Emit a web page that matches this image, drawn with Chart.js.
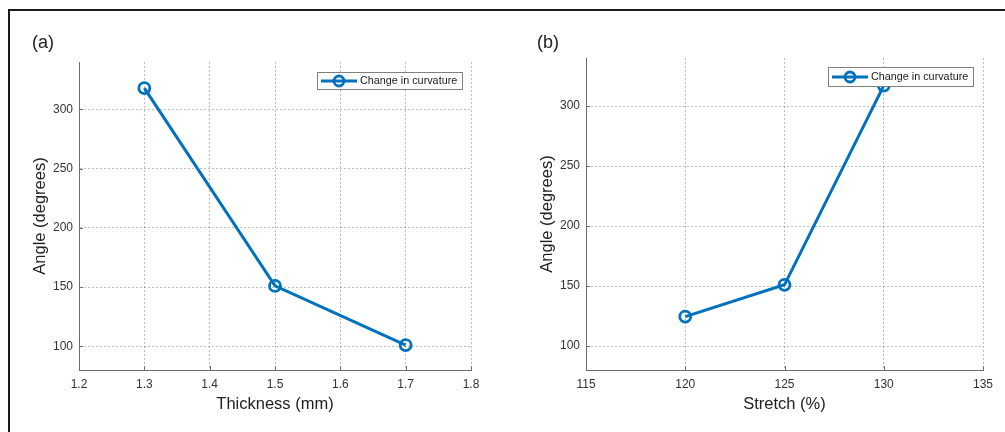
<!DOCTYPE html>
<html>
<head>
<meta charset="utf-8">
<script src="https://cdn.jsdelivr.net/npm/chart.js@4.4.1/dist/chart.umd.min.js"></script>
<style>
  html, body { margin: 0; padding: 0; background: #fff; }
  body { width: 1005px; height: 432px; position: relative; overflow: hidden; font-family: "Liberation Sans", Arial, sans-serif; }
  #frame { position: absolute; left: 8px; top: 9px; right: -5px; bottom: -5px; border-top: 2px solid #1a1a1a; border-left: 2px solid #1a1a1a; }
  canvas { position: absolute; }
  .panel { position: absolute; font-size: 18px; line-height: 1; color: #222; }
</style>
</head>
<body>
<div id="frame"></div>
<canvas id="chartA" width="488" height="420" style="left:12px;top:12px"></canvas>
<canvas id="chartB" width="505" height="420" style="left:500px;top:12px"></canvas>
<div class="panel" style="left:32px;top:33px">(a)</div>
<div class="panel" style="left:537px;top:33px">(b)</div>
<script>
const thickness = [1.3, 1.5, 1.7];
const angleByThickness = [318, 151, 101];
const stretch = [120, 125, 130];
const angleByStretch = [124.5, 151, 317];
const thicknessTicks = [1.2, 1.3, 1.4, 1.5, 1.6, 1.7, 1.8];
const stretchTicks = [115, 120, 125, 130, 135];
const angleTicks = [100, 150, 200, 250, 300];
const seriesLabel = 'Change in curvature';

Chart.defaults.font.family = '"Liberation Sans", Arial, sans-serif';

const axisColor = '#6e6e6e';
const textColor = '#333';
const gridColor = 'rgba(0, 0, 0, 0.26)';
const lineColor = '#0072BD';

// small inward tick marks, MATLAB style
const innerTicks = {
  id: 'innerTicks',
  afterDraw(chart) {
    const { ctx, chartArea, scales } = chart;
    ctx.save();
    ctx.strokeStyle = axisColor;
    ctx.lineWidth = 1;
    ctx.beginPath();
    scales.x.ticks.forEach(t => {
      const px = Math.round(scales.x.getPixelForValue(t.value)) + 0.5;
      ctx.moveTo(px, chartArea.bottom);
      ctx.lineTo(px, chartArea.bottom - 4);
    });
    scales.y.ticks.forEach(t => {
      const py = Math.round(scales.y.getPixelForValue(t.value)) + 0.5;
      ctx.moveTo(chartArea.left, py);
      ctx.lineTo(chartArea.left + 4, py);
    });
    ctx.stroke();
    ctx.restore();
  }
};

// boxed legend inside the axes, drawn over the data
const legendBox = {
  id: 'legendBox',
  afterDatasetsDraw(chart, args, opts) {
    const { ctx, chartArea } = chart;
    const ds = chart.data.datasets[0];
    ctx.save();
    ctx.font = '10.8px "Liberation Sans", Arial, sans-serif';
    const tw = ctx.measureText(ds.label).width;
    const w = Math.round(tw + 48);
    const h = opts.height;
    const x = Math.round(chartArea.right - opts.right - w);
    const y = Math.round(chartArea.top + opts.top);
    ctx.fillStyle = '#fff';
    ctx.fillRect(x, y, w, h);
    ctx.strokeStyle = '#808080';
    ctx.lineWidth = 1;
    ctx.strokeRect(x + 0.5, y + 0.5, w, h);
    const cy = y + h / 2 + 0.5;
    ctx.strokeStyle = ds.borderColor;
    ctx.lineWidth = ds.borderWidth;
    ctx.beginPath();
    ctx.moveTo(x + 4, cy);
    ctx.lineTo(x + 40, cy);
    ctx.stroke();
    ctx.lineWidth = ds.pointBorderWidth;
    ctx.beginPath();
    ctx.arc(x + 22, cy, ds.pointRadius - 0.5, 0, Math.PI * 2);
    ctx.stroke();
    ctx.fillStyle = '#1a1a1a';
    ctx.textBaseline = 'middle';
    ctx.fillText(ds.label, x + 43, cy);
    ctx.restore();
  }
};

function makeChart(id, xs, ys, xTicks, xTitle, decimals, pad, legend) {
  const points = xs.map((x, i) => ({ x: x, y: ys[i] }));
  return new Chart(document.getElementById(id), {
    type: 'scatter',
    data: {
      datasets: [{
        label: seriesLabel,
        data: points,
        showLine: true,
        borderColor: lineColor,
        borderWidth: 3,
        pointRadius: 5.5,
        pointHoverRadius: 5.5,
        pointBorderWidth: 2.8,
        pointBorderColor: lineColor,
        pointBackgroundColor: 'transparent',
        tension: 0
      }]
    },
    options: {
      responsive: false,
      animation: false,
      layout: { padding: pad },
      plugins: {
        legend: { display: false },
        tooltip: { enabled: false },
        legendBox: legend
      },
      scales: {
        x: {
          type: 'linear',
          min: xTicks[0],
          max: xTicks[xTicks.length - 1],
          afterBuildTicks: s => { s.ticks = xTicks.map(v => ({ value: v })); },
          afterFit: s => { s.height = 50; },
          grid: { color: gridColor, lineWidth: 1, drawTicks: false },
          border: { display: true, color: axisColor, width: 1, dash: [2, 2] },
          ticks: {
            color: textColor,
            font: { size: 12 },
            padding: 7,
            maxRotation: 0,
            autoSkip: false,
            callback: v => Number(v).toFixed(decimals)
          },
          title: {
            display: true,
            text: xTitle,
            color: '#222',
            font: { size: 16.5 },
            padding: { top: 0, bottom: 6 }
          }
        },
        y: {
          type: 'linear',
          min: 80,
          max: 340,
          afterBuildTicks: s => { s.ticks = angleTicks.map(v => ({ value: v })); },
          afterFit: s => { s.width = 67; },
          grid: { color: gridColor, lineWidth: 1, drawTicks: false },
          border: { display: true, color: axisColor, width: 1, dash: [2, 2] },
          ticks: {
            color: textColor,
            font: { size: 12 },
            padding: 6,
            autoSkip: false,
            callback: v => String(v)
          },
          title: {
            display: true,
            text: 'Angle (degrees)',
            color: '#222',
            font: { size: 16.5 },
            padding: { top: 19, bottom: 0 }
          }
        }
      }
    },
    plugins: [innerTicks, legendBox]
  });
}

makeChart('chartA', thickness, angleByThickness, thicknessTicks, 'Thickness (mm)', 1,
  { left: 0, top: 50, right: 29, bottom: 12 }, { right: 9, top: 10, height: 17 });
makeChart('chartB', stretch, angleByStretch, stretchTicks, 'Stretch (%)', 0,
  { left: 19, top: 46, right: 22, bottom: 12 }, { right: 10, top: 9, height: 19 });
</script>
</body>
</html>
